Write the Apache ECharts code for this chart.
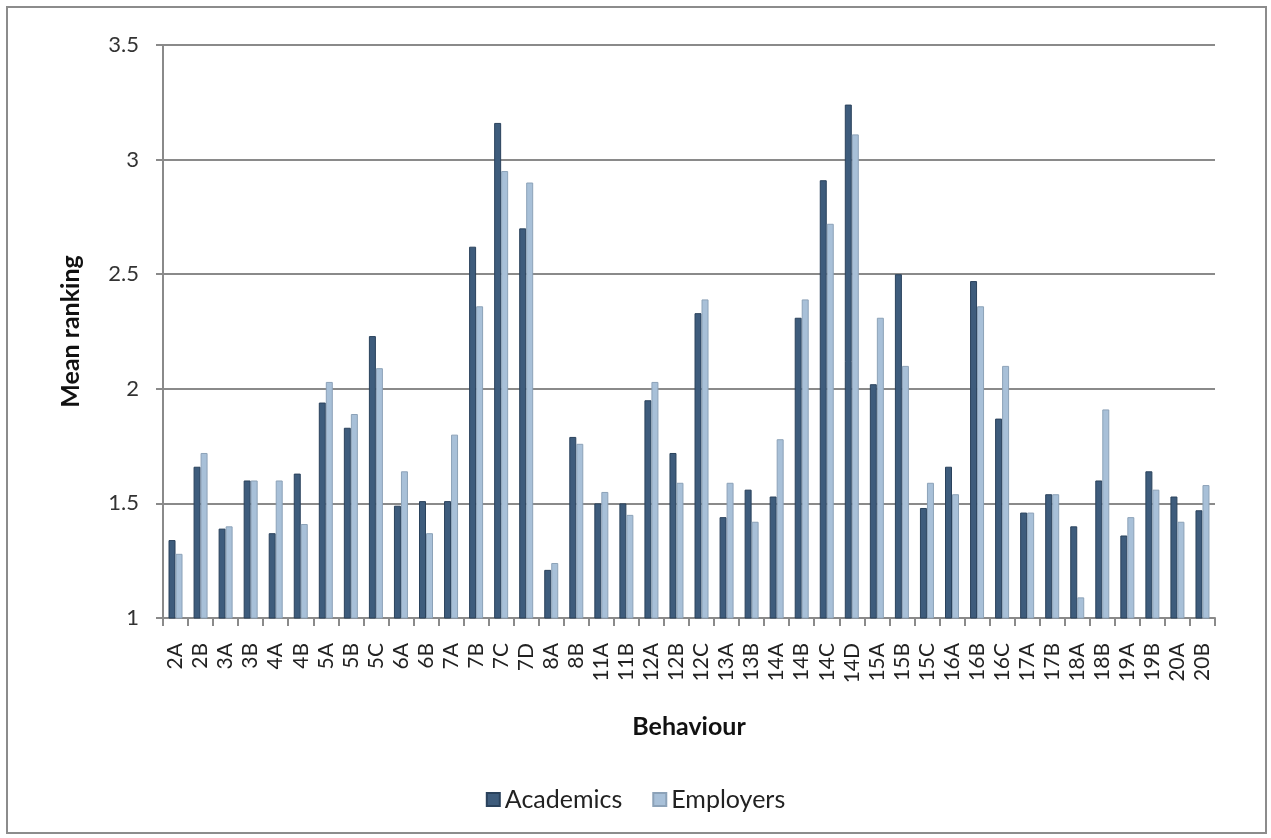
<!DOCTYPE html>
<html>
<head>
<meta charset="utf-8">
<script src="https://cdn.jsdelivr.net/npm/echarts@6/dist/echarts.min.js"></script>
<style>
html,body{margin:0;padding:0;background:#fff;}
#chart{width:1271px;height:838px;}
</style>
</head>
<body>
<div id="chart"></div>
<script>
const categories = ['2A','2B','3A','3B','4A','4B','5A','5B','5C','6A','6B','7A','7B','7C','7D','8A','8B','11A','11B','12A','12B','12C','13A','13B','14A','14B','14C','14D','15A','15B','15C','16A','16B','16C','17A','17B','18A','18B','19A','19B','20A','20B'];
const academics = [1.34,1.66,1.39,1.60,1.37,1.63,1.94,1.83,2.23,1.49,1.51,1.51,2.62,3.16,2.70,1.21,1.79,1.50,1.50,1.95,1.72,2.33,1.44,1.56,1.53,2.31,2.91,3.24,2.02,2.50,1.48,1.66,2.47,1.87,1.46,1.54,1.40,1.60,1.36,1.64,1.53,1.47];
const employers = [1.28,1.72,1.40,1.60,1.60,1.41,2.03,1.89,2.09,1.64,1.37,1.80,2.36,2.95,2.90,1.24,1.76,1.55,1.45,2.03,1.59,2.39,1.59,1.42,1.78,2.39,2.72,3.11,2.31,2.10,1.59,1.54,2.36,2.10,1.46,1.54,1.09,1.91,1.44,1.56,1.42,1.58];
const yTicks = {min: 1, max: 3.5, interval: 0.5};

const FONT = 'Lato, "Open Sans", sans-serif';
const chart = echarts.init(document.getElementById('chart'));
chart.setOption({
  backgroundColor: '#ffffff',
  animation: false,
  graphic: [{
    type: 'rect',
    shape: {x: 7, y: 7, width: 1259, height: 826},
    style: {fill: 'none', stroke: '#8c8c8c', lineWidth: 2},
    silent: true
  }],
  grid: {left: 163, right: 56, top: 45, bottom: 220},
  legend: {
    bottom: 21,
    left: 'center',
    itemWidth: 13,
    itemHeight: 13,
    itemGap: 30,
    icon: 'rect',
    textStyle: {fontFamily: FONT, fontSize: 25, color: '#222'},
    data: ['Academics', 'Employers']
  },
  xAxis: {
    type: 'category',
    data: categories,
    name: 'Behaviour',
    nameLocation: 'middle',
    nameGap: 96,
    nameTextStyle: {fontFamily: FONT, fontSize: 25, fontWeight: 'bold', color: '#111'},
    axisLine: {lineStyle: {color: '#8a8a8a', width: 2}},
    axisTick: {show: true, alignWithLabel: false, length: 8, lineStyle: {color: '#8a8a8a', width: 2}},
    axisLabel: {rotate: 90, interval: 0, fontFamily: FONT, fontSize: 21, color: '#222', margin: 25}
  },
  yAxis: {
    type: 'value',
    min: yTicks.min,
    max: yTicks.max,
    interval: yTicks.interval,
    name: 'Mean ranking',
    nameLocation: 'middle',
    nameGap: 80,
    nameRotate: 90,
    nameTextStyle: {fontFamily: FONT, fontSize: 25, fontWeight: 'bold', color: '#111'},
    axisLine: {show: true, lineStyle: {color: '#8a8a8a', width: 2}},
    axisTick: {show: true, length: 7, lineStyle: {color: '#8a8a8a', width: 2}},
    axisLabel: {fontFamily: FONT, fontSize: 22, color: '#333', margin: 24},
    splitLine: {show: true, lineStyle: {color: '#8a8a8a', width: 2}}
  },
  series: [
    {
      name: 'Academics',
      type: 'bar',
      data: academics,
      barWidth: 7,
      barGap: '0%',
      itemStyle: {color: '#3e5c7c', borderColor: '#2a425c', borderWidth: 1}
    },
    {
      name: 'Employers',
      type: 'bar',
      data: employers,
      barWidth: 7,
      itemStyle: {color: '#a8c0d8', borderColor: '#8ca2b8', borderWidth: 1}
    }
  ]
});
</script>
</body>
</html>
